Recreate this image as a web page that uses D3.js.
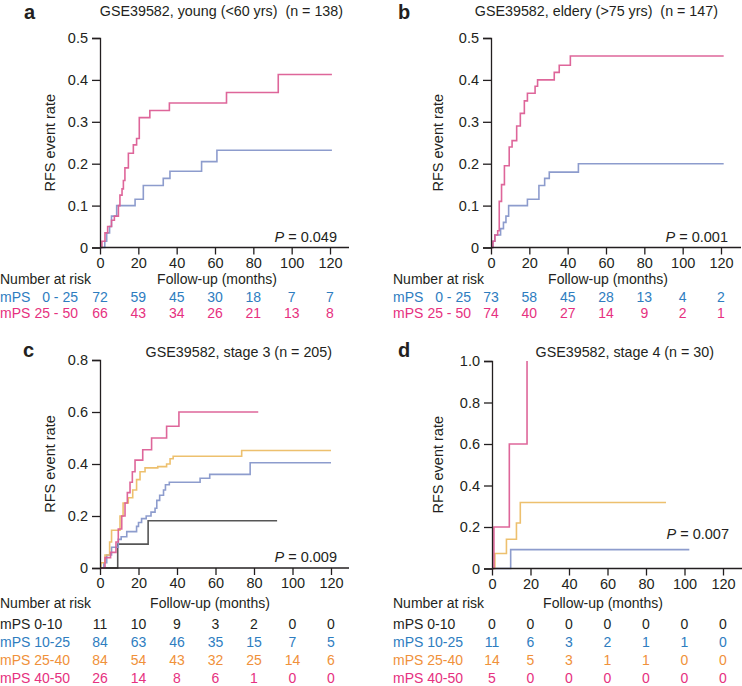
<!DOCTYPE html>
<html><head><meta charset="utf-8">
<script src="https://cdn.jsdelivr.net/npm/d3@7"></script>
<style>
html,body{margin:0;padding:0;background:#fff;}
svg{display:block;font-family:"Liberation Sans",Arial,Helvetica,sans-serif;}
text{white-space:pre;}
</style></head>
<body>
<svg id="chart" width="742" height="686"></svg>
<script>
// ---------- data ----------
const monthTicks = [0, 20, 40, 60, 80, 100, 120];

// panel a: GSE39582 young
const aLowT  = [0, 2.5, 3.5, 5, 6, 8.7, 18.3, 22.6, 33, 36.5, 53, 61, 121];
const aLowV  = [0, 0.015, 0.035, 0.05, 0.075, 0.1, 0.115, 0.148, 0.165, 0.182, 0.205, 0.232, 0.232];
const aHighT = [0, 1, 2.6, 4, 6, 7.5, 9.6, 10.4, 11.5, 12.2, 13, 14.8, 17.4, 19.1, 20.5, 26, 36.2, 66, 93, 121];
const aHighV = [0, 0.015, 0.035, 0.05, 0.065, 0.075, 0.1, 0.125, 0.14, 0.16, 0.19, 0.225, 0.245, 0.26, 0.31, 0.327, 0.345, 0.37, 0.413, 0.413];
const aRiskLow  = [72, 59, 45, 30, 18, 7, 7];
const aRiskHigh = [66, 43, 34, 26, 21, 13, 8];

// panel b: GSE39582 eldery
const bLowT  = [0, 1, 2, 5, 6.5, 7.8, 9.2, 19, 25, 28, 30.4, 45.6, 121.4];
const bLowV  = [0, 0.015, 0.03, 0.045, 0.06, 0.075, 0.1, 0.115, 0.148, 0.165, 0.18, 0.2, 0.2];
const bHighT = [0, 1, 2, 3.5, 4.3, 5.5, 7, 9.5, 11, 13.4, 15.3, 17.4, 19, 23, 24.3, 33, 35.6, 41.4, 121.4];
const bHighV = [0, 0.015, 0.03, 0.04, 0.11, 0.15, 0.195, 0.24, 0.255, 0.29, 0.32, 0.35, 0.368, 0.385, 0.4, 0.418, 0.435, 0.457, 0.457];
const bRiskLow  = [73, 58, 45, 28, 13, 4, 2];
const bRiskHigh = [74, 40, 27, 14, 9, 2, 1];

// panel c: stage 3
const cG1T = [0, 9.2, 25, 92];
const cG1V = [0, 0.092, 0.182, 0.182];
const cG2T = [0, 2, 3.5, 6, 9.5, 11, 13.9, 19, 20, 21.6, 24, 26.5, 28.6, 29.5, 31, 33, 34, 36, 52, 57, 78, 120];
const cG2V = [0, 0.02, 0.05, 0.08, 0.11, 0.12, 0.14, 0.16, 0.175, 0.19, 0.2, 0.215, 0.23, 0.26, 0.28, 0.3, 0.32, 0.33, 0.345, 0.36, 0.405, 0.405];
const cG3T = [0, 0.5, 2.6, 5, 6, 10.4, 12, 14.7, 17, 19, 20.8, 23.4, 30, 34.6, 36.4, 38, 73.6, 120];
const cG3V = [0, 0.02, 0.05, 0.1, 0.145, 0.2, 0.25, 0.27, 0.3, 0.34, 0.37, 0.385, 0.39, 0.4, 0.42, 0.43, 0.452, 0.452];
const cG4T = [0, 2.6, 5.5, 8.3, 9.5, 11.3, 13, 14.2, 15.6, 16.8, 18.2, 22.2, 26.8, 34.6, 41, 82.2];
const cG4V = [0, 0.04, 0.06, 0.1, 0.15, 0.2, 0.25, 0.29, 0.33, 0.37, 0.415, 0.455, 0.5, 0.545, 0.6, 0.6];
const cRisk = [[11, 10, 9, 3, 2, 0, 0], [84, 63, 46, 35, 15, 7, 5], [84, 54, 43, 32, 25, 14, 6], [26, 14, 8, 6, 1, 0, 0]];

// panel d: stage 4
const dG2T = [0, 9.7, 102.5];
const dG2V = [0, 0.091, 0.091];
const dG3T = [0, 1.5, 7.5, 12.7, 14.7, 90.4];
const dG3V = [0, 0.072, 0.141, 0.219, 0.318, 0.318];
const dG4T = [0, 1, 9, 18.2];
const dG4V = [0, 0.2, 0.6, 1.0];
const dRisk = [[0, 0, 0, 0, 0, 0, 0], [11, 6, 3, 2, 1, 1, 0], [14, 5, 3, 1, 1, 0, 0], [5, 0, 0, 0, 0, 0, 0]];

const groupLabels4 = ["mPS 0-10", "mPS 10-25", "mPS 25-40", "mPS 40-50"];

// ---------- styles ----------
const curveCol = {black: "#4d4d4d", blue: "#8797ca", orange: "#ecbd66", pink: "#dc5e95"};
const textCol  = {black: "#231f20", blue: "#2e7dbf", orange: "#f0913a", pink: "#e63180"};
const axisCol = "#231f20";
const FS = 14;

const svg = d3.select("#chart");
const zip = (T, V) => T.map((t, i) => [t, V[i]]);

function panel(o) {
  const x = d3.scaleLinear().domain([0, 120]).range([o.x0, o.x1]);
  const y = d3.scaleLinear().domain([0, o.ymax]).range([o.y0, o.y1]);
  const g = svg.append("g");

  // curves
  const line = d3.line().x(d => x(d[0])).y(d => y(d[1])).curve(d3.curveStepAfter);
  o.curves.forEach(c => {
    g.append("path").datum(zip(c.T, c.V))
      .attr("d", line).attr("fill", "none")
      .attr("stroke", c.col).attr("stroke-width", 1.6).attr("stroke-opacity", 0.95);
  });

  // axes
  const xa = g.append("g").attr("transform", `translate(0,${o.y0})`)
    .call(d3.axisBottom(x).tickValues(monthTicks).tickSize(7).tickPadding(3).tickFormat(d3.format("d")));
  xa.select(".domain").attr("d", `M${o.x0},0H${o.axEnd}`);
  const ya = g.append("g").attr("transform", `translate(${o.x0},0)`)
    .call(d3.axisLeft(y).tickValues(o.yticks).tickSize(8).tickPadding(4)
      .tickFormat(d => d === 0 ? "0" : d3.format(".1f")(d)));
  [xa, ya].forEach(a => {
    a.select(".domain").attr("stroke", axisCol).attr("stroke-width", 1.3);
    a.selectAll(".tick line").attr("stroke", axisCol).attr("stroke-width", 1.3);
    a.selectAll(".tick text").attr("fill", axisCol).attr("font-size", 14.5)
      .attr("font-family", '"Liberation Sans",Arial,sans-serif');
  });

  // y label
  g.append("text").attr("transform", `translate(${o.ylabX},${(o.y0 + o.y1) / 2}) rotate(-90)`)
    .attr("text-anchor", "middle").attr("font-size", 14.5).attr("fill", axisCol).text("RFS event rate");

  // letter + title
  g.append("text").attr("x", o.letterX).attr("y", o.letterY).attr("font-size", 20)
    .attr("font-weight", "bold").attr("fill", axisCol).text(o.letter);
  g.append("text").attr("x", o.titleEnd).attr("y", o.titleY).attr("text-anchor", "end")
    .attr("font-size", 14.3).attr("fill", axisCol).text(o.title);

  // p value
  const p = g.append("text").attr("x", o.pX).attr("y", o.pY).attr("text-anchor", "end")
    .attr("font-size", 14.5).attr("fill", axisCol);
  p.append("tspan").attr("font-style", "italic").text("P");
  p.append("tspan").text(" = " + o.p);

  // risk table
  g.append("text").attr("x", o.tabX).attr("y", o.nrY).attr("font-size", FS).attr("fill", axisCol).text("Number at risk");
  g.append("text").attr("x", o.fuX).attr("y", o.nrY).attr("text-anchor", "middle")
    .attr("font-size", FS).attr("fill", axisCol).text("Follow-up (months)");
  o.rows.forEach((r, i) => {
    const yy = o.rowY[i];
    if (r.range !== undefined) {
      g.append("text").attr("x", o.tabX).attr("y", yy).attr("font-size", FS).attr("fill", r.col).text("mPS");
      g.append("text").attr("x", o.tabX + 78).attr("y", yy).attr("text-anchor", "end")
        .attr("font-size", FS).attr("fill", r.col).text(r.range);
    } else {
      g.append("text").attr("x", o.tabX).attr("y", yy).attr("font-size", FS).attr("fill", r.col).text(r.label);
    }
    g.selectAll(null).data(r.vals).join("text")
      .attr("x", (d, j) => x(monthTicks[j])).attr("y", yy).attr("text-anchor", "middle")
      .attr("font-size", FS).attr("fill", r.col).text(d => d);
  });
}

const yt5 = [0, 0.1, 0.2, 0.3, 0.4, 0.5];
panel({
  x0: 100, x1: 330, axEnd: 349, y0: 247.5, y1: 38, ymax: 0.5, yticks: yt5, ylabX: 55,
  letter: "a", letterX: 24, letterY: 19, title: "GSE39582, young (<60 yrs)  (n = 138)", titleEnd: 343, titleY: 16,
  p: "0.049", pX: 337, pY: 242,
  curves: [{T: aLowT, V: aLowV, col: curveCol.blue}, {T: aHighT, V: aHighV, col: curveCol.pink}],
  tabX: 0, nrY: 284, fuX: 217, rowY: [302, 318],
  rows: [{range: "0 - 25", vals: aRiskLow, col: textCol.blue}, {range: "25 - 50", vals: aRiskHigh, col: textCol.pink}]
});
panel({
  x0: 491, x1: 721, axEnd: 741, y0: 247.5, y1: 38, ymax: 0.5, yticks: yt5, ylabX: 443,
  letter: "b", letterX: 398, letterY: 19, title: "GSE39582, eldery (>75 yrs)  (n = 147)", titleEnd: 718, titleY: 16,
  p: "0.001", pX: 728, pY: 242,
  curves: [{T: bLowT, V: bLowV, col: curveCol.blue}, {T: bHighT, V: bHighV, col: curveCol.pink}],
  tabX: 393, nrY: 284, fuX: 608, rowY: [302, 318],
  rows: [{range: "0 - 25", vals: bRiskLow, col: textCol.blue}, {range: "25 - 50", vals: bRiskHigh, col: textCol.pink}]
});
const cols4 = [textCol.black, textCol.blue, textCol.orange, textCol.pink];
panel({
  x0: 100, x1: 331, axEnd: 349, y0: 568, y1: 360, ymax: 0.8, yticks: [0, 0.2, 0.4, 0.6, 0.8], ylabX: 55,
  letter: "c", letterX: 23, letterY: 357, title: "GSE39582, stage 3 (n = 205)", titleEnd: 332, titleY: 357,
  p: "0.009", pX: 337, pY: 562,
  curves: [{T: cG1T, V: cG1V, col: curveCol.black}, {T: cG2T, V: cG2V, col: curveCol.blue},
           {T: cG3T, V: cG3V, col: curveCol.orange}, {T: cG4T, V: cG4V, col: curveCol.pink}],
  tabX: 0, nrY: 608, fuX: 210, rowY: [629, 647, 665, 683],
  rows: cRisk.map((v, i) => ({label: groupLabels4[i], vals: v, col: cols4[i]}))
});
panel({
  x0: 492, x1: 723, axEnd: 742, y0: 568.5, y1: 361, ymax: 1.0, yticks: [0, 0.2, 0.4, 0.6, 0.8, 1.0], ylabX: 443,
  letter: "d", letterX: 398, letterY: 357, title: "GSE39582, stage 4 (n = 30)", titleEnd: 714, titleY: 357,
  p: "0.007", pX: 729, pY: 539,
  curves: [{T: dG2T, V: dG2V, col: curveCol.blue}, {T: dG3T, V: dG3V, col: curveCol.orange}, {T: dG4T, V: dG4V, col: curveCol.pink}],
  tabX: 393, nrY: 608, fuX: 603, rowY: [629, 647, 665, 683],
  rows: dRisk.map((v, i) => ({label: groupLabels4[i], vals: v, col: cols4[i]}))
});
</script>
</body></html>
